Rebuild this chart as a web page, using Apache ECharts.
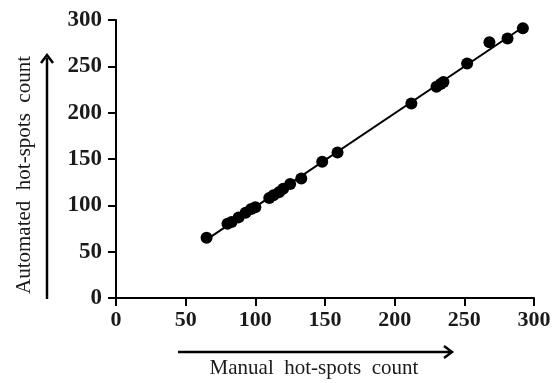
<!DOCTYPE html>
<html><head><meta charset="utf-8">
<script src="https://cdn.jsdelivr.net/npm/echarts@6/dist/echarts.min.js"></script>
<style>html,body{margin:0;padding:0;background:#fff}#c{width:554px;height:383px}</style>
</head><body><div id="c"></div>
<script>
const manualCounts =    [65, 80, 83, 88, 93, 97, 100, 110, 113, 117, 120, 125, 133, 148, 159, 212, 230, 233, 235, 252, 268, 281, 292];
const automatedCounts = [65, 80, 82, 87, 92, 96,  98, 108, 111, 114, 118, 123, 129, 147, 157, 210, 228, 231, 233, 253, 276, 280, 291];
const xTicks = [0, 50, 100, 150, 200, 250, 300];
const yTicks = [0, 50, 100, 150, 200, 250, 300];

const points = manualCounts.map((m, i) => [m, automatedCounts[i]]);
// least-squares trend line from the data
const n = manualCounts.length;
const mx = manualCounts.reduce((a, b) => a + b, 0) / n;
const my = automatedCounts.reduce((a, b) => a + b, 0) / n;
let sxy = 0, sxx = 0;
for (let i = 0; i < n; i++) { sxy += (manualCounts[i] - mx) * (automatedCounts[i] - my); sxx += (manualCounts[i] - mx) ** 2; }
const slope = sxy / sxx, icpt = my - slope * mx;
const xMin = Math.min(...manualCounts), xMax = Math.max(...manualCounts);
const trend = [[xMin, icpt + slope * xMin], [xMax, icpt + slope * xMax]];

const chart = echarts.init(document.getElementById('c'), null, { renderer: 'canvas' });
const labelStyle = { fontFamily: 'Liberation Serif', fontWeight: 'bold', fontSize: 22, color: '#1a1a1a' };
chart.setOption({
  animation: false,
  backgroundColor: '#fff',
  grid: { left: 116, right: 20, top: 20, bottom: 85, containLabel: false },
  xAxis: {
    type: 'value', min: 0, max: 300, interval: 50,
    axisLine: { show: true, lineStyle: { color: '#000', width: 2 } },
    axisTick: { show: true, length: 8, lineStyle: { color: '#000', width: 2 } },
    axisLabel: Object.assign({ margin: 11, formatter: v => xTicks.includes(v) ? String(v) : '' }, labelStyle),
    splitLine: { show: false }
  },
  yAxis: {
    type: 'value', min: 0, max: 300, interval: 50,
    axisLine: { show: true, lineStyle: { color: '#000', width: 2 } },
    axisTick: { show: true, length: 8, lineStyle: { color: '#000', width: 2 } },
    axisLabel: Object.assign({ margin: 14, formatter: v => yTicks.includes(v) ? String(v) : '' }, labelStyle, { fontSize: 23 }),
    splitLine: { show: false }
  },
  series: [
    { type: 'line', data: trend, symbol: 'none', lineStyle: { color: '#000', width: 2 }, z: 2 },
    { type: 'scatter', data: points, symbol: 'circle', symbolSize: 12, itemStyle: { color: '#000', opacity: 1 }, z: 3 }
  ],
  graphic: [
    { type: 'line', shape: { x1: 178, y1: 352, x2: 450, y2: 352 }, style: { stroke: '#000', lineWidth: 2.5 } },
    { type: 'polyline', shape: { points: [[444, 346], [452, 352], [444, 358]] }, style: { stroke: '#000', lineWidth: 2.5, fill: null } },
    { type: 'text', x: 314, y: 368, style: { text: 'Manual  hot-spots  count', font: '21px "Liberation Serif"', fill: '#1a1a1a', textAlign: 'center', textVerticalAlign: 'middle' } },
    { type: 'line', shape: { x1: 47, y1: 299, x2: 47, y2: 58 }, style: { stroke: '#000', lineWidth: 2.5 } },
    { type: 'polyline', shape: { points: [[41, 63], [47, 55], [53, 63]] }, style: { stroke: '#000', lineWidth: 2.5, fill: null } },
    { type: 'text', rotation: Math.PI / 2, x: 24, y: 175, style: { text: 'Automated  hot-spots  count', font: '21px "Liberation Serif"', fill: '#1a1a1a', textAlign: 'center', textVerticalAlign: 'middle' } }
  ]
});
</script></body></html>
